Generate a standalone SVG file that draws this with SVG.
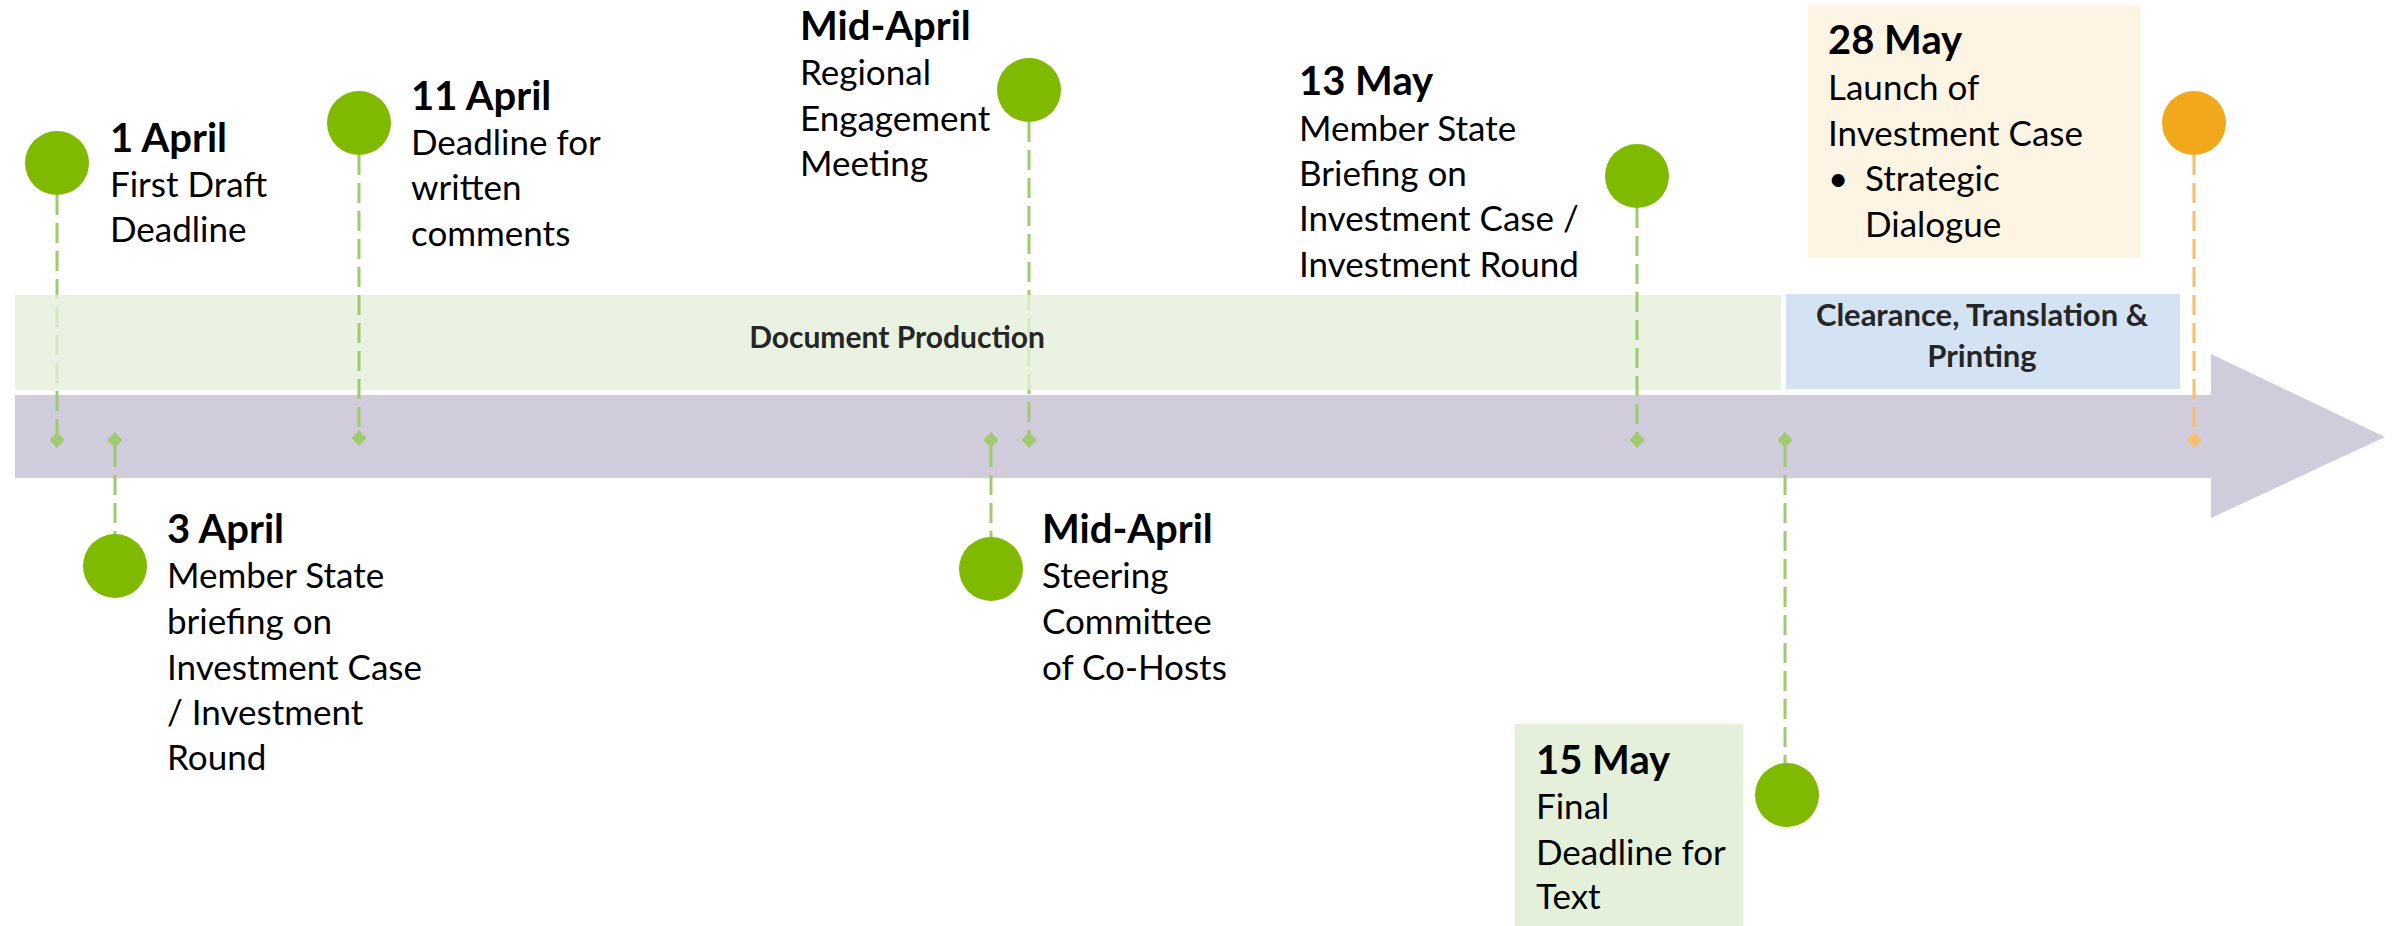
<svg xmlns="http://www.w3.org/2000/svg" width="2403" height="926" viewBox="0 0 2403 926">
<style>
.t{font-family:Lato,"Liberation Sans",sans-serif;font-size:35px;fill:#000}
.b{font-weight:bold;font-size:40px}
.band{font-family:Lato,"Liberation Sans",sans-serif;font-weight:bold;font-size:30px;fill:#262626;text-anchor:middle}
.band2{font-size:31px}
.gc{fill:#7FBA00}
.oc{fill:#F2A81D}
.gl{stroke:#9DCB6E;stroke-width:3;stroke-dasharray:20 8;fill:none}
.ol{stroke:#F6BE6E;stroke-width:3;stroke-dasharray:20 8;fill:none}
.gd{fill:#9DCB6E}
.od{fill:#F6BE6E}
</style>
<rect width="2403" height="926" fill="#FFFFFF"/>
<g id="timeline-arrow">
<polygon points="15,395 2211,395 2211,354 2385,437 2211,518 2211,478 15,478" fill="#D0CCDC"/>
</g>
<g id="connectors-behind">
<path class="gl" d="M57,195 V433"/>
<path class="gl" d="M1029,122 V433"/>
</g>
<g id="document-production">
<rect x="15" y="295" width="1766" height="95" fill="#E5EFDB" fill-opacity="0.8"/>
<text class="band" x="897" y="348">Document Production</text>
</g>
<g id="clearance">
<rect x="1786" y="294" width="394" height="95" fill="#D4E3F3"/>
<text class="band band2" x="1982" y="326">Clearance, Translation &amp;</text>
<text class="band band2" x="1982" y="367">Printing</text>
</g>
<g id="connectors">
<path class="gl" d="M359,155 V433"/>
<path class="gl" d="M115,447 V534"/>
<path class="gl" d="M991,447 V537"/>
<path class="gl" d="M1637,208 V433"/>
<path class="gl" d="M1785,447 V763"/>
<path class="ol" d="M2194,155 V433"/>
<polygon class="gd" points="57,432 64.5,440 57,448 49.5,440"/>
<polygon class="gd" points="115,432 122.5,440 115,448 107.5,440"/>
<polygon class="gd" points="359,430 366.5,438 359,446 351.5,438"/>
<polygon class="gd" points="991,432 998.5,440 991,448 983.5,440"/>
<polygon class="gd" points="1029,432 1036.5,440 1029,448 1021.5,440"/>
<polygon class="gd" points="1637,432 1644.5,440 1637,448 1629.5,440"/>
<polygon class="gd" points="1785,432 1792.5,440 1785,448 1777.5,440"/>
<polygon class="od" points="2194,432 2201.5,440 2194,448 2186.5,440"/>
</g>
<g id="m-1-april">
<circle class="gc" cx="57" cy="163" r="32"/>
<text class="t" x="110"><tspan class="b" x="110" y="152">1 April</tspan><tspan x="110" y="197">First Draft</tspan><tspan x="110" y="242">Deadline</tspan></text>
</g>
<g id="m-3-april">
<circle class="gc" cx="115" cy="566" r="32"/>
<text class="t"><tspan class="b" x="167" y="543">3 April</tspan><tspan x="167" y="588">Member State</tspan><tspan x="167" y="634">briefing on</tspan><tspan x="167" y="680">Investment Case</tspan><tspan x="167" y="725">/ Investment</tspan><tspan x="167" y="770">Round</tspan></text>
</g>
<g id="m-11-april">
<circle class="gc" cx="359" cy="123" r="32"/>
<text class="t"><tspan class="b" x="411" y="110">11 April</tspan><tspan x="411" y="155">Deadline for</tspan><tspan x="411" y="200">written</tspan><tspan x="411" y="246">comments</tspan></text>
</g>
<g id="m-mid-april-regional">
<circle class="gc" cx="1029" cy="90" r="32"/>
<text class="t"><tspan class="b" x="800" y="40">Mid-April</tspan><tspan x="800" y="85">Regional</tspan><tspan x="800" y="131">Engagement</tspan><tspan x="800" y="176">Meeting</tspan></text>
</g>
<g id="m-mid-april-steering">
<circle class="gc" cx="991" cy="569" r="32"/>
<text class="t"><tspan class="b" x="1042" y="543">Mid-April</tspan><tspan x="1042" y="588">Steering</tspan><tspan x="1042" y="634">Committee</tspan><tspan x="1042" y="680">of Co-Hosts</tspan></text>
</g>
<g id="m-13-may">
<circle class="gc" cx="1637" cy="176" r="32"/>
<text class="t"><tspan class="b" x="1299" y="95">13 May</tspan><tspan x="1299" y="141">Member State</tspan><tspan x="1299" y="186">Briefing on</tspan><tspan x="1299" y="231">Investment Case /</tspan><tspan x="1299" y="277">Investment Round</tspan></text>
</g>
<g id="m-15-may">
<rect x="1515" y="724" width="228" height="202" fill="#E4F0DA"/>
<circle class="gc" cx="1787" cy="795" r="32"/>
<text class="t"><tspan class="b" x="1536" y="774">15 May</tspan><tspan x="1536" y="819">Final</tspan><tspan x="1536" y="865">Deadline for</tspan><tspan x="1536" y="909">Text</tspan></text>
</g>
<g id="m-28-may">
<rect x="1808" y="5" width="333" height="253" fill="#FEF4E3"/>
<circle class="oc" cx="2194" cy="123" r="32"/>
<text class="t"><tspan class="b" x="1828" y="54">28 May</tspan><tspan x="1828" y="100">Launch of</tspan><tspan x="1828" y="146">Investment Case</tspan><tspan x="1828" y="191">•</tspan><tspan x="1865" y="191">Strategic</tspan><tspan x="1865" y="237">Dialogue</tspan></text>
</g>
</svg>
